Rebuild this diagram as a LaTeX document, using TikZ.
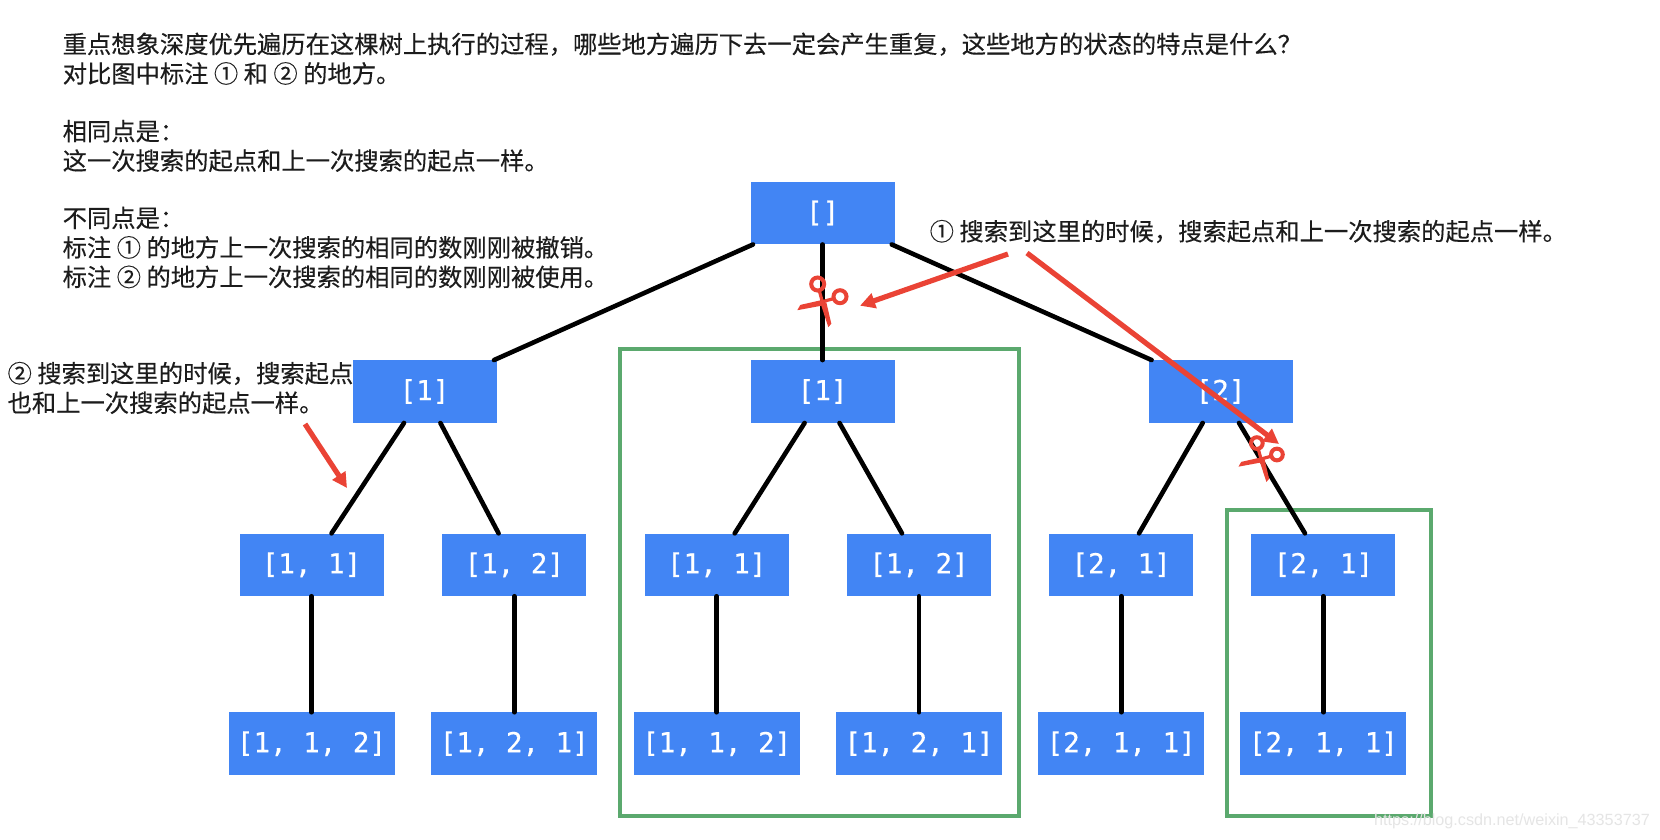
\documentclass[tikz,border=0pt]{standalone}
\usepackage{fontspec}
\setmonofont[FakeBold=0.5]{DejaVu Sans Mono}
\setsansfont{Liberation Sans}
\newfontfamily\cjk[FakeBold=0.25]{Noto Sans CJK SC}
\usetikzlibrary{arrows.meta}
\definecolor{boxblue}{HTML}{4285F4}
\definecolor{framegreen}{HTML}{5BA96E}
\definecolor{markred}{HTML}{EA4335}
\definecolor{inkdark}{HTML}{1C1C1C}
\tikzset{
  x=1pt,y=-1pt,
  statebox/.style={fill=boxblue,text=white,minimum width=144pt,minimum height=62.5pt,inner sep=0pt,font=\fontsize{27.5}{30}\ttfamily},
  widebox/.style={statebox,minimum width=166pt},
  edgeline/.style={draw=black,line width=4.6pt,line cap=round},
  frame/.style={draw=framegreen,line width=4pt},
  note/.style={anchor=west,align=left,inner sep=0pt,text=inkdark,font=\fontsize{24.3}{29.5}\cjk},
  redarrow/.style={draw=markred,line width=5.2pt,-{Triangle[length=15pt,width=15pt]}},
  scissors/.pic={
    \draw[markred,line width=4pt] (-4.6,-17.7) circle[radius=6.5pt];
    \draw[markred,line width=4pt] (17.7,-5) circle[radius=6.5pt];
    \draw[markred,line width=3.2pt] (-3,-11) -- (0,0);
    \draw[markred,line width=3.2pt] (11,-3) -- (0,0);
    \fill[markred] (-2,1) -- (4,0.5) -- (9,22) -- (6,25.5) -- cycle;
    \fill[markred] (-25,8.5) -- (-22,3.2) -- (1,-2) -- (2,3.5) -- cycle;
  }
}
\begin{document}
\begin{tikzpicture}
\useasboundingbox (0,0) rectangle (1660,839);
\fill[white] (0,0) rectangle (1660,839);

% green frames
\node[frame,minimum width=399pt,minimum height=467.5pt,inner sep=0pt] (frameA) at (819,582.25) {};
\node[frame,minimum width=204.5pt,minimum height=306pt,inner sep=0pt] (frameB) at (1329,663) {};

% nodes
\node[statebox] (root) at (822.6,213) {[]};
\node[statebox] (a1) at (424.5,391.5) {[1]};
\node[statebox] (a2) at (822.6,391.5) {[1]};
\node[statebox] (a3) at (1220.6,391.5) {[2]};
\node[statebox] (b1) at (311.5,564.8) {[1, 1]};
\node[statebox] (b2) at (514.3,564.8) {[1, 2]};
\node[statebox] (b3) at (716.7,564.8) {[1, 1]};
\node[statebox] (b4) at (919,564.8) {[1, 2]};
\node[statebox] (b5) at (1121.2,564.8) {[2, 1]};
\node[statebox] (b6) at (1323.4,564.8) {[2, 1]};
\node[widebox] (c1) at (311.5,743.7) {[1, 1, 2]};
\node[widebox] (c2) at (514.3,743.7) {[1, 2, 1]};
\node[widebox] (c3) at (716.7,743.7) {[1, 1, 2]};
\node[widebox] (c4) at (919,743.7) {[1, 2, 1]};
\node[widebox] (c5) at (1121.2,743.7) {[2, 1, 1]};
\node[widebox] (c6) at (1323.4,743.7) {[2, 1, 1]};

% tree edges
\draw[edgeline] ([xshift=-69.6pt]root.south) -- ([xshift=69.5pt]a1.north);
\draw[edgeline] (root.south) -- (a2.north);
\draw[edgeline] ([xshift=69.1pt]root.south) -- ([xshift=-69pt]a3.north);
\draw[edgeline] ([xshift=-20.5pt]a1.south) -- ([xshift=20pt]b1.north);
\draw[edgeline] ([xshift=15.9pt]a1.south) -- ([xshift=-15.7pt]b2.north);
\draw[edgeline] ([xshift=-18pt]a2.south) -- ([xshift=18pt]b3.north);
\draw[edgeline] ([xshift=16.9pt]a2.south) -- ([xshift=-17pt]b4.north);
\draw[edgeline] ([xshift=-17.9pt]a3.south) -- ([xshift=17.8pt]b5.north);
\draw[edgeline] ([xshift=18.4pt]a3.south) -- ([xshift=-18.4pt]b6.north);
\foreach \p/\q in {b1/c1,b2/c2,b3/c3,b4/c4,b5/c5,b6/c6}
  \draw[edgeline] (\p.south) -- (\q.north);

% notes
\node[note] (t1) at (62.5,58.7) {重点想象深度优先遍历在这棵树上执行的过程，哪些地方遍历下去一定会产生重复，这些地方的状态的特点是什么？\\对比图中标注 ① 和 ② 的地方。};
\node[note] (t2) at (62.5,146) {相同点是：\\这一次搜索的起点和上一次搜索的起点一样。};
\node[note] (t3) at (62.5,247.5) {不同点是：\\标注 ① 的地方上一次搜索的相同的数刚刚被撤销。\\标注 ② 的地方上一次搜索的相同的数刚刚被使用。};
\node[note] (t4) at (929.5,231.5) {① 搜索到这里的时候，搜索起点和上一次搜索的起点一样。};
\node[note] (t5) at (7.4,388) {② 搜索到这里的时候，搜索起点\\也和上一次搜索的起点一样。};
\node[anchor=east,inner sep=0pt,text=black!10,font=\fontsize{16.2}{20}\sffamily] (wm) at (1650,821) {https://blog.csdn.net/weixin\_43353737};

% scissors
\pic at (822.3,301.7) {scissors};
\pic[scale=0.9] at (1261,459) {scissors};

% red pointers
\coordinate (p1s) at (1008,254);
\coordinate (p1e) at (860,305.7);
\coordinate (p2s) at (1027,253);
\coordinate (p2e) at (1279,444);
\coordinate (p3s) at (305,424);
\coordinate (p3e) at (347,488);
\draw[redarrow] (p1s) -- (p1e);
\draw[redarrow] (p2s) -- (p2e);
\draw[redarrow] (p3s) -- (p3e);
\end{tikzpicture}
\end{document}
